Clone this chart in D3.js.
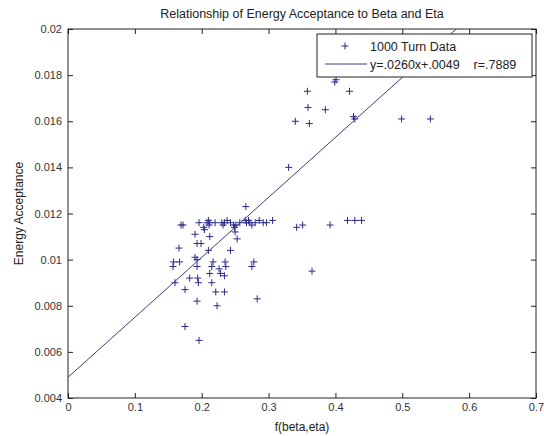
<!DOCTYPE html>
<html>
<head>
<meta charset="utf-8">
<script src="https://cdn.jsdelivr.net/npm/d3@7"></script>
<style>
  body { margin: 0; background: #fff; }
  text { font-family: "Liberation Sans", Arial, Helvetica, sans-serif; fill: #222; }
</style>
</head>
<body>
<svg id="chart" width="544" height="436"></svg>
<script>
// f(beta,eta) for each 1000-turn run
const betaEta = [
  0.401, 0.399, 0.358, 0.421, 0.359, 0.385, 0.340, 0.361, 0.429, 0.427, 0.499, 0.542, 0.330,
  0.392, 0.418, 0.429, 0.439, 0.342, 0.351,
  0.169, 0.172, 0.196, 0.203, 0.204, 0.208, 0.210, 0.212, 0.211, 0.220, 0.230, 0.232, 0.234,
  0.238, 0.243, 0.248, 0.249, 0.251, 0.257, 0.265, 0.267, 0.270, 0.272, 0.275, 0.280, 0.286,
  0.292, 0.297, 0.306, 0.266,
  0.250, 0.253, 0.190, 0.212, 0.193, 0.199, 0.166, 0.210, 0.243, 0.190, 0.193, 0.158, 0.167,
  0.157, 0.193, 0.217, 0.215, 0.235, 0.236, 0.278, 0.275, 0.365, 0.212, 0.226, 0.228, 0.234,
  0.160, 0.182, 0.194, 0.195, 0.215, 0.175, 0.221, 0.234, 0.193, 0.223, 0.283, 0.175, 0.196
];
// Energy acceptance measured for each run
const acceptance = [
  0.0178, 0.0177, 0.0173, 0.0173, 0.0166, 0.0165, 0.0160, 0.0159, 0.0161, 0.0162, 0.0161, 0.0161, 0.0140,
  0.0115, 0.0117, 0.0117, 0.0117, 0.0114, 0.0115,
  0.0115, 0.0115, 0.0116, 0.0114, 0.0113, 0.0116, 0.0117, 0.0116, 0.0115, 0.0116, 0.0116, 0.0115, 0.0116,
  0.0117, 0.0116, 0.0115, 0.0114, 0.0115, 0.0116, 0.0117, 0.0116, 0.0117, 0.0116, 0.0115, 0.0116, 0.0117,
  0.0116, 0.0116, 0.0117, 0.0123,
  0.0112, 0.0109, 0.0111, 0.0110, 0.0107, 0.0107, 0.0105, 0.0104, 0.0104, 0.0101, 0.0100, 0.0099, 0.0099,
  0.0097, 0.0097, 0.0099, 0.0097, 0.0099, 0.0097, 0.0099, 0.0097, 0.0095, 0.0094, 0.0096, 0.0094, 0.0093,
  0.0090, 0.0092, 0.0092, 0.0090, 0.0090, 0.0087, 0.0086, 0.0086, 0.0082, 0.0080, 0.0083, 0.0071, 0.0065
];

// Least-squares fit
const fitSlope = 0.0260;
const fitIntercept = 0.0049;
const fitR = 0.7889;

const xTicks = [0, 0.1, 0.2, 0.3, 0.4, 0.5, 0.6, 0.7];
const xTickLabels = ["0", "0.1", "0.2", "0.3", "0.4", "0.5", "0.6", "0.7"];
const yTicks = [0.004, 0.006, 0.008, 0.010, 0.012, 0.014, 0.016, 0.018, 0.020];
const yTickLabels = ["0.004", "0.006", "0.008", "0.01", "0.012", "0.014", "0.016", "0.018", "0.02"];

const seriesNames = ["1000 Turn Data", "y=.0260x+.0049    r=.7889"];
const chartTitle = "Relationship of Energy Acceptance to Beta and Eta";
const xLabel = "f(beta,eta)";
const yLabel = "Energy Acceptance";

const svg = d3.select("#chart");
const plot = { left: 68, right: 536, top: 29, bottom: 398 };

const x = d3.scaleLinear().domain([0, 0.7]).range([plot.left, plot.right]);
const y = d3.scaleLinear().domain([0.004, 0.02]).range([plot.bottom, plot.top]);

const markerColor = "#2a2a8c";
const lineColor = "#3d3d7a";
const axisColor = "#222";

svg.append("defs").append("clipPath").attr("id", "plotClip")
  .append("rect")
  .attr("x", plot.left).attr("y", plot.top)
  .attr("width", plot.right - plot.left).attr("height", plot.bottom - plot.top);

// Axes with inward ticks on all four sides
const tickLen = 5;
const bottomAxis = d3.axisBottom(x).tickValues(xTicks)
  .tickFormat((d, i) => xTickLabels[i]).tickSizeInner(-tickLen).tickSizeOuter(0).tickPadding(5);
const topAxis = d3.axisTop(x).tickValues(xTicks).tickFormat("").tickSizeInner(-tickLen).tickSizeOuter(0);
const leftAxis = d3.axisLeft(y).tickValues(yTicks)
  .tickFormat((d, i) => yTickLabels[i]).tickSizeInner(-tickLen).tickSizeOuter(0).tickPadding(6);
const rightAxis = d3.axisRight(y).tickValues(yTicks).tickFormat("").tickSizeInner(-tickLen).tickSizeOuter(0);

function styleAxis(g) {
  g.select(".domain").remove();
  g.selectAll(".tick line").attr("stroke", axisColor);
  g.selectAll(".tick text").attr("font-size", 11).style("fill", "#333")
    .attr("font-family", "'Liberation Sans', Arial, sans-serif");
}

svg.append("g").attr("transform", `translate(0,${plot.bottom})`).call(bottomAxis).call(styleAxis);
svg.append("g").attr("transform", `translate(0,${plot.top})`).call(topAxis).call(styleAxis);
svg.append("g").attr("transform", `translate(${plot.left},0)`).call(leftAxis).call(styleAxis);
svg.append("g").attr("transform", `translate(${plot.right},0)`).call(rightAxis).call(styleAxis);

// Axes box
svg.append("rect")
  .attr("x", plot.left).attr("y", plot.top)
  .attr("width", plot.right - plot.left).attr("height", plot.bottom - plot.top)
  .attr("fill", "none").attr("stroke", axisColor).attr("stroke-width", 1);

// Data markers
const plus = "M-3.5,0H3.5M0,-3.5V3.5";
svg.append("g").attr("clip-path", "url(#plotClip)")
  .selectAll("path.pt")
  .data(betaEta.map((b, i) => [b, acceptance[i]]))
  .join("path")
  .attr("class", "pt")
  .attr("d", plus)
  .attr("transform", d => `translate(${x(d[0])},${y(d[1])})`)
  .attr("fill", "none")
  .attr("stroke", markerColor)
  .attr("stroke-width", 1);

// Fitted line
const fitPts = x.domain().map(v => [v, fitSlope * v + fitIntercept]);
svg.append("path")
  .attr("clip-path", "url(#plotClip)")
  .attr("d", d3.line().x(d => x(d[0])).y(d => y(d[1]))(fitPts))
  .attr("fill", "none")
  .attr("stroke", lineColor)
  .attr("stroke-width", 1);

// Legend
const legend = svg.append("g").attr("transform", "translate(317,34)");
legend.append("rect")
  .attr("width", 215).attr("height", 43)
  .attr("fill", "#fff").attr("stroke", axisColor).attr("stroke-width", 1);
legend.append("path")
  .attr("d", plus)
  .attr("transform", "translate(28,12)")
  .attr("fill", "none").attr("stroke", markerColor);
legend.append("text").attr("x", 53).attr("y", 16.5).attr("font-size", 12.5).text(seriesNames[0]);
legend.append("line")
  .attr("x1", 8).attr("x2", 50).attr("y1", 30).attr("y2", 30)
  .attr("stroke", lineColor);
legend.append("text").attr("x", 53).attr("y", 34.5).attr("font-size", 12.5)
  .attr("xml:space", "preserve").style("white-space", "pre").text(seriesNames[1]);

// Titles
svg.append("text")
  .attr("x", (plot.left + plot.right) / 2).attr("y", 18)
  .attr("text-anchor", "middle").attr("font-size", 12.5).text(chartTitle);
svg.append("text")
  .attr("x", (plot.left + plot.right) / 2).attr("y", 431)
  .attr("text-anchor", "middle").attr("font-size", 12).text(xLabel);
svg.append("text")
  .attr("transform", `translate(23,${(plot.top + plot.bottom) / 2}) rotate(-90)`)
  .attr("text-anchor", "middle").attr("font-size", 12).text(yLabel);
</script>
</body>
</html>
